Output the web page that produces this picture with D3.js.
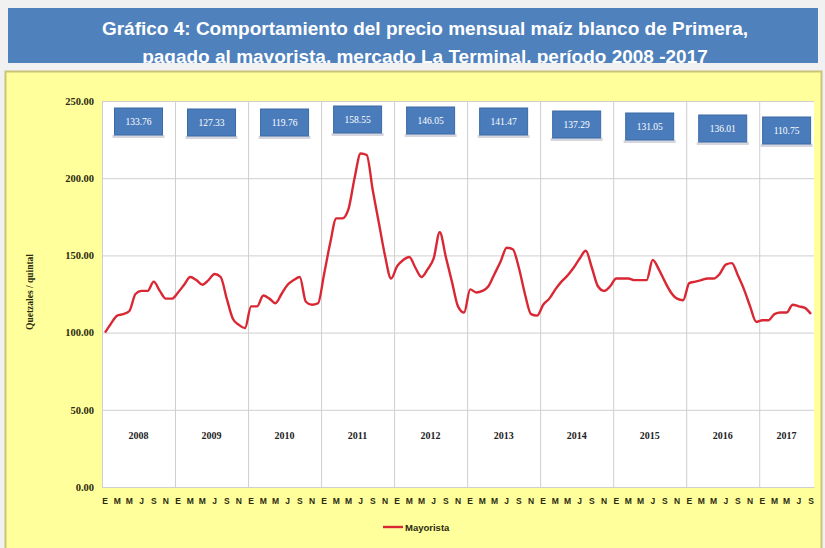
<!DOCTYPE html>
<html>
<head>
<meta charset="utf-8">
<script src="https://cdn.jsdelivr.net/npm/d3@7"></script>
<style>
  html, body { margin: 0; padding: 0; background: #f1f1f1; }
  svg { display: block; }
</style>
</head>
<body>
<div id="chart"></div>
<script>
// precio mensual, quetzales por quintal (enero 2008 - septiembre 2017)
var p2008 = [100, 106, 111, 112, 114, 125, 127, 127, 133, 127, 122, 122];
var p2009 = [126, 131, 136, 134, 131, 134, 138, 136, 122, 109, 105, 103];
var p2010 = [117, 117, 124, 122, 119, 125, 131, 134, 136, 120, 118, 119];
var p2011 = [138, 158, 174, 174, 180, 200, 216, 215, 192, 171, 150, 135];
var p2012 = [143, 147, 149, 142, 136, 141, 148, 165, 149, 133, 117, 113];
var p2013 = [128, 126, 127, 130, 138, 146, 155, 154, 142, 125, 112, 111];
var p2014 = [118, 122, 128, 133, 137, 142, 148, 153, 142, 130, 127, 130];
var p2015 = [135, 135, 135, 134, 134, 134, 147, 141, 133, 126, 122, 121];
var p2016 = [132, 133, 134, 135, 135, 138, 144, 145, 137, 128, 117, 107];
var p2017 = [108, 108, 112, 113, 113, 118, 117, 116, 112];

var years = ["2008", "2009", "2010", "2011", "2012", "2013", "2014", "2015", "2016", "2017"];
var yearAvg = ["133.76", "127.33", "119.76", "158.55", "146.05", "141.47", "137.29", "131.05", "136.01", "110.75"];
var monthInitials = ["E", "F", "M", "A", "M", "J", "J", "A", "S", "O", "N", "D"];
var yTicks = [0, 50, 100, 150, 200, 250];

var titleLines = [
    "Gráfico 4: Comportamiento del precio mensual maíz blanco de Primera,",
    "pagado al mayorista, mercado La Terminal, período 2008 -2017"
];
var seriesName = "Mayorista";
var yLabel = "Quetzales / quintal";

var doChart = (() => {
    var config = {
        w: 825,
        h: 548,
        plot: { left: 102, right: 814, top: 101, bottom: 487 },
        colors: {
            title: '#4f81bd',
            chartBg: '#ffff9c',
            line: '#d92834',
            grid: '#cfcfcf',
            box: '#4a7cbc'
        }
    };

    var prices = [].concat(p2008, p2009, p2010, p2011, p2012, p2013, p2014, p2015, p2016, p2017);
    var perYear = [p2008, p2009, p2010, p2011, p2012, p2013, p2014, p2015, p2016, p2017];

    var draw = function () {
        var svg = d3.select('#chart').append('svg')
            .attr('width', config.w)
            .attr('height', config.h);

        // title band
        svg.append('defs').append('clipPath').attr('id', 'titleClip')
            .append('rect').attr('x', 8).attr('y', 8).attr('width', 810).attr('height', 55);
        svg.append('rect')
            .attr('x', 8).attr('y', 8).attr('width', 810).attr('height', 55)
            .attr('fill', config.colors.title);
        svg.append('g').attr('clip-path', 'url(#titleClip)')
            .selectAll('text').data(titleLines).enter().append('text')
            .attr('x', 425)
            .attr('y', function (d, i) { return 35 + i * 28; })
            .attr('text-anchor', 'middle')
            .attr('fill', '#fff')
            .attr('font-family', 'Liberation Sans, Arial, sans-serif')
            .attr('font-weight', 'bold')
            .attr('font-size', 19)
            .text(function (d) { return d; });

        // chart area
        svg.append('rect')
            .attr('x', 5.5).attr('y', 71.5).attr('width', 816).attr('height', 490)
            .attr('fill', config.colors.chartBg)
            .attr('stroke', '#c9c478').attr('stroke-width', 2);
        svg.append('rect')
            .attr('x', config.plot.left).attr('y', config.plot.top)
            .attr('width', config.plot.right - config.plot.left)
            .attr('height', config.plot.bottom - config.plot.top)
            .attr('fill', '#fff');

        var xScale = d3.scaleBand()
            .domain(d3.range(prices.length))
            .range([config.plot.left, config.plot.right])
            .padding(0);
        var bw = xScale.bandwidth();
        var yScale = d3.scaleLinear()
            .domain([0, 250])
            .range([config.plot.bottom, config.plot.top]);

        // horizontal grid + y axis
        var yAxis = d3.axisLeft(yScale)
            .tickValues(yTicks)
            .tickSize(-(config.plot.right - config.plot.left))
            .tickPadding(8)
            .tickFormat(d3.format('.2f'));
        var gy = svg.append('g')
            .attr('class', 'axis')
            .attr('transform', 'translate(' + config.plot.left + ',0)')
            .call(yAxis);
        gy.select('.domain').attr('stroke', config.colors.grid);
        gy.selectAll('.tick line').attr('stroke', config.colors.grid);
        gy.selectAll('.tick text')
            .attr('font-family', 'Liberation Serif, Times New Roman, serif')
            .attr('font-weight', 'bold')
            .attr('font-size', 10.5)
            .attr('fill', '#2b2b10');

        // year separators
        var yearStarts = d3.range(1, years.length).map(function (i) { return i * 12; });
        svg.append('g').selectAll('line').data(yearStarts).enter().append('line')
            .attr('x1', function (d) { return xScale(d) + 0.5; })
            .attr('x2', function (d) { return xScale(d) + 0.5; })
            .attr('y1', config.plot.top)
            .attr('y2', config.plot.bottom)
            .attr('stroke', config.colors.grid);

        // x axis (month initials every two months)
        var xAxis = d3.axisBottom(xScale)
            .tickValues(d3.range(0, prices.length, 2))
            .tickSize(0)
            .tickPadding(11)
            .tickFormat(function (d) { return monthInitials[d % 12]; });
        var gx = svg.append('g')
            .attr('class', 'axis')
            .attr('transform', 'translate(0,' + config.plot.bottom + ')')
            .call(xAxis);
        gx.select('.domain').attr('stroke', config.colors.grid);
        gx.selectAll('.tick text')
            .attr('font-family', 'Liberation Sans Narrow, Liberation Sans, Arial, sans-serif')
            .attr('font-weight', 'bold')
            .attr('font-size', 8.5)
            .attr('fill', '#2b2b10');

        // year labels inside plot
        var yearCenter = function (i) {
            var first = xScale(i * 12);
            var last = xScale(i * 12 + perYear[i].length - 1) + bw;
            return (first + last) / 2;
        };
        svg.append('g').selectAll('text').data(years).enter().append('text')
            .attr('x', function (d, i) { return yearCenter(i); })
            .attr('y', yScale(31))
            .attr('text-anchor', 'middle')
            .attr('font-family', 'Liberation Serif, Times New Roman, serif')
            .attr('font-weight', 'bold')
            .attr('font-size', 10)
            .attr('fill', '#222')
            .text(function (d) { return d; });

        // average boxes
        var boxTop = [108, 109, 109, 106, 107, 108, 111, 113, 115, 117];
        var boxes = svg.append('g').selectAll('g').data(yearAvg).enter().append('g')
            .attr('transform', function (d, i) {
                return 'translate(' + (yearCenter(i) - 24) + ',' + boxTop[i] + ')';
            });
        boxes.append('rect')
            .attr('x', -2).attr('y', 27).attr('width', 52).attr('height', 3)
            .attr('fill', '#d6d6de');
        boxes.append('rect')
            .attr('width', 48).attr('height', 27)
            .attr('fill', config.colors.box)
            .attr('stroke', '#3a6aa6');
        boxes.append('text')
            .attr('x', 24).attr('y', 17)
            .attr('text-anchor', 'middle')
            .attr('font-family', 'Liberation Serif, Times New Roman, serif')
            .attr('font-size', 9.5)
            .attr('fill', '#fff')
            .text(function (d) { return d; });

        // price line
        var line = d3.line()
            .x(function (d, i) { return xScale(i) + bw / 2; })
            .y(function (d) { return yScale(d); })
            .curve(d3.curveMonotoneX);
        svg.append('path')
            .datum(prices)
            .attr('d', line)
            .attr('fill', 'none')
            .attr('stroke', config.colors.line)
            .attr('stroke-width', 2.4);

        // y axis title
        svg.append('text')
            .attr('transform', 'translate(33,292) rotate(-90)')
            .attr('text-anchor', 'middle')
            .attr('font-family', 'Liberation Serif, Times New Roman, serif')
            .attr('font-weight', 'bold')
            .attr('font-size', 9.5)
            .attr('fill', '#2b2b10')
            .text(yLabel);

        // legend
        svg.append('line')
            .attr('x1', 383).attr('x2', 403).attr('y1', 527).attr('y2', 527)
            .attr('stroke', config.colors.line).attr('stroke-width', 2.4);
        svg.append('text')
            .attr('x', 405).attr('y', 530.5)
            .attr('font-family', 'Liberation Sans Narrow, Liberation Sans, Arial, sans-serif')
            .attr('font-weight', 'bold')
            .attr('font-size', 9.5)
            .attr('fill', '#2b2b10')
            .text(seriesName);
    };

    return { draw: draw };
})();

doChart.draw();
</script>
</body>
</html>
